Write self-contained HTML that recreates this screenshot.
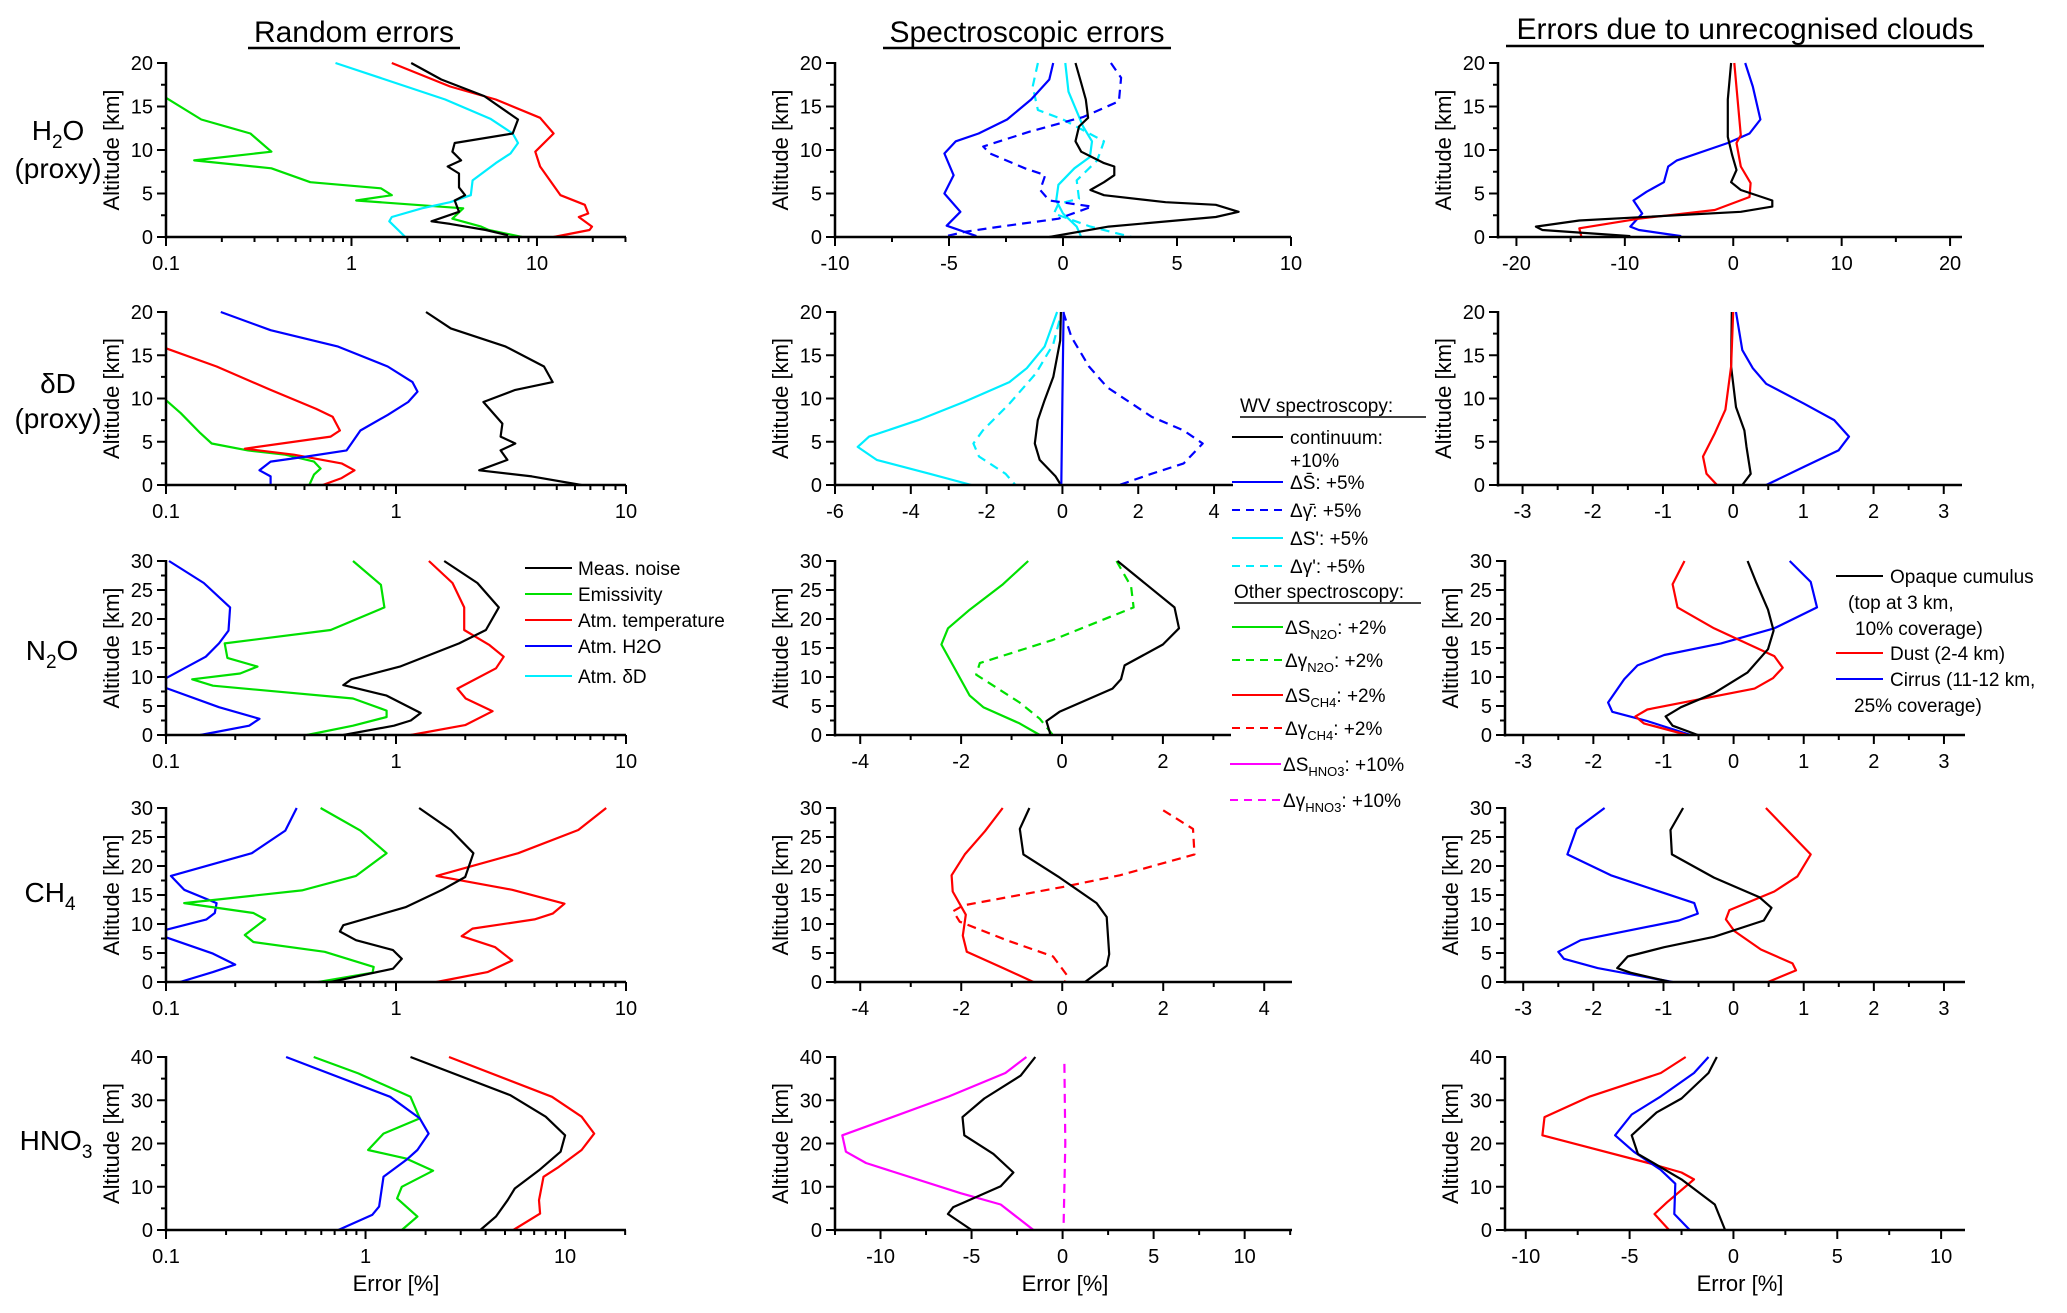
<!DOCTYPE html>
<html><head><meta charset="utf-8"><style>
html,body{margin:0;padding:0;background:#fff;}
svg{display:block;font-family:"Liberation Sans",Arial,sans-serif;}
</style></head><body>
<svg id="fig" width="2067" height="1313" viewBox="0 0 2067 1313">
<rect x="0" y="0" width="2067" height="1313" fill="#fff"/>
<g font-size="30" text-anchor="middle">
<text x="354" y="42">Random errors</text>
<line x1="248" y1="48" x2="460" y2="48" stroke="#000" stroke-width="2.5"/>
<text x="1027" y="42">Spectroscopic errors</text>
<line x1="883" y1="48" x2="1171" y2="48" stroke="#000" stroke-width="2.5"/>
<text x="1745" y="39">Errors due to unrecognised clouds</text>
<line x1="1506" y1="46" x2="1984" y2="46" stroke="#000" stroke-width="2.5"/>
</g>
<g font-size="28" text-anchor="middle">
<text x="58" y="140">H<tspan font-size="19" dy="8">2</tspan><tspan dy="-8">O</tspan></text>
<text x="58" y="178">(proxy)</text>
<text x="58" y="393">δD</text>
<text x="58" y="428">(proxy)</text>
<text x="52" y="660">N<tspan font-size="19" dy="8">2</tspan><tspan dy="-8">O</tspan></text>
<text x="50" y="902">CH<tspan font-size="19" dy="8">4</tspan></text>
<text x="56" y="1150">HNO<tspan font-size="19" dy="8">3</tspan></text>
</g>
<g font-size="22" text-anchor="middle">
<text x="396" y="1291">Error [%]</text>
<text x="1065" y="1291">Error [%]</text>
<text x="1740" y="1291">Error [%]</text>
</g>
<g font-size="19">
<line x1="525" y1="568" x2="572" y2="568" stroke="#000" stroke-width="2"/><text x="578" y="575">Meas. noise</text>
<line x1="525" y1="594" x2="572" y2="594" stroke="#00e000" stroke-width="2"/><text x="578" y="601">Emissivity</text>
<line x1="525" y1="620" x2="572" y2="620" stroke="#ff0000" stroke-width="2"/><text x="578" y="627">Atm. temperature</text>
<line x1="525" y1="646" x2="572" y2="646" stroke="#0000ff" stroke-width="2"/><text x="578" y="653">Atm. H2O</text>
<line x1="525" y1="676" x2="572" y2="676" stroke="#00eeff" stroke-width="2"/><text x="578" y="683">Atm. δD</text>
</g>
<g font-size="19">
<text x="1240" y="412">WV spectroscopy:</text>
<line x1="1240" y1="417" x2="1426" y2="417" stroke="#000" stroke-width="1.5"/>
<line x1="1232" y1="437" x2="1283" y2="437" stroke="#000" stroke-width="2"/><text x="1290" y="444">continuum:</text>
<text x="1290" y="467">+10%</text>
<line x1="1232" y1="482" x2="1283" y2="482" stroke="#0000ff" stroke-width="2"/><text x="1290" y="489">ΔS̄: +5%</text>
<line x1="1232" y1="510" x2="1283" y2="510" stroke="#0000ff" stroke-width="2" stroke-dasharray="8,6"/><text x="1290" y="517">Δγ̄: +5%</text>
<line x1="1232" y1="538" x2="1283" y2="538" stroke="#00eeff" stroke-width="2"/><text x="1290" y="545">ΔS': +5%</text>
<line x1="1232" y1="566" x2="1283" y2="566" stroke="#00eeff" stroke-width="2" stroke-dasharray="8,6"/><text x="1290" y="573">Δγ': +5%</text>
<text x="1234" y="598">Other spectroscopy:</text>
<line x1="1234" y1="603" x2="1421" y2="603" stroke="#000" stroke-width="1.5"/>
<line x1="1232" y1="627" x2="1283" y2="627" stroke="#00e000" stroke-width="2"/><text x="1285" y="634">ΔS<tspan font-size="13" dy="5">N2O</tspan><tspan dy="-5">: +2%</tspan></text>
<line x1="1232" y1="660" x2="1283" y2="660" stroke="#00e000" stroke-width="2" stroke-dasharray="8,6"/><text x="1285" y="667">Δγ<tspan font-size="13" dy="5">N2O</tspan><tspan dy="-5">: +2%</tspan></text>
<line x1="1232" y1="695" x2="1283" y2="695" stroke="#ff0000" stroke-width="2"/><text x="1285" y="702">ΔS<tspan font-size="13" dy="5">CH4</tspan><tspan dy="-5">: +2%</tspan></text>
<line x1="1232" y1="728" x2="1283" y2="728" stroke="#ff0000" stroke-width="2" stroke-dasharray="8,6"/><text x="1285" y="735">Δγ<tspan font-size="13" dy="5">CH4</tspan><tspan dy="-5">: +2%</tspan></text>
<line x1="1230" y1="764" x2="1281" y2="764" stroke="#ff00ff" stroke-width="2"/><text x="1283" y="771">ΔS<tspan font-size="13" dy="5">HNO3</tspan><tspan dy="-5">: +10%</tspan></text>
<line x1="1230" y1="800" x2="1281" y2="800" stroke="#ff00ff" stroke-width="2" stroke-dasharray="8,6"/><text x="1283" y="807">Δγ<tspan font-size="13" dy="5">HNO3</tspan><tspan dy="-5">: +10%</tspan></text>
</g>
<g font-size="19">
<line x1="1836" y1="576" x2="1883" y2="576" stroke="#000" stroke-width="2"/><text x="1890" y="583">Opaque cumulus</text>
<text x="1848" y="609">(top at 3 km,</text>
<text x="1855" y="635">10% coverage)</text>
<line x1="1836" y1="653" x2="1883" y2="653" stroke="#ff0000" stroke-width="2"/><text x="1890" y="660">Dust (2-4 km)</text>
<line x1="1836" y1="679" x2="1883" y2="679" stroke="#0000ff" stroke-width="2"/><text x="1890" y="686">Cirrus (11-12 km,</text>
<text x="1854" y="712">25% coverage)</text>
</g>
<g id="panels"></g>
</svg>
<script>
// ---- Data: each series is [altitude km, error %] pairs ----
// Random errors
const rH2O_noise=[[20,2.1],[18.1,3.05],[16.2,5.2],[13.5,7.9],[11.9,7.4],[10.8,3.6],[9.8,3.5],[8.8,3.9],[8.1,3.3],[7.3,3.8],[5.7,3.8],[4.8,4.1],[4.2,3.6],[2.9,3.8],[1.8,2.7],[1.5,3.4],[0.8,5.3],[0.2,7.0]];
const rH2O_emis=[[16,0.1],[13.5,0.155],[11.9,0.285],[9.8,0.37],[8.8,0.142],[7.9,0.37],[6.3,0.6],[5.6,1.44],[4.8,1.65],[4.2,1.06],[3.3,4.0],[2.1,3.5],[1.2,5.0],[0.8,5.5],[0,8.3]];
const rH2O_temp=[[20,1.65],[17.3,3.4],[15.8,6.0],[13.7,10.4],[11.9,12.3],[9.8,9.8],[8.1,10.4],[4.8,13.4],[3.7,18.1],[2.7,18.9],[2.3,16.8],[1.2,19.8],[0.8,19.2],[0,12.3]];
const rH2O_dD=[[20,0.82],[15.8,3.2],[13.6,5.6],[11.9,7.4],[10.8,7.9],[9.6,7.2],[8.5,6.0],[6.5,4.5],[4.8,4.4],[4.0,3.4],[3.3,2.4],[2.3,1.65],[1.8,1.6],[0,1.95]];
const rdD_noise=[[20,1.35],[18.1,1.73],[16,3.0],[13.7,4.4],[11.9,4.8],[11,3.3],[9.6,2.4],[7.1,2.9],[5.6,2.85],[4.8,3.3],[4.0,2.85],[2.9,3.05],[1.7,2.3],[1.0,3.9],[0,6.4]];
const rdD_h2o=[[20,0.173],[17.9,0.285],[16,0.56],[13.7,0.92],[11.9,1.18],[10.8,1.24],[9.6,1.13],[8.1,0.92],[6.3,0.7],[4.8,0.64],[4.0,0.61],[3.3,0.41],[2.7,0.285],[1.7,0.255],[1.0,0.285],[0,0.285]];
const rdD_temp=[[15.8,0.1],[13.7,0.166],[11,0.285],[8.8,0.45],[7.9,0.53],[6.3,0.57],[5.6,0.52],[4.2,0.22],[3.5,0.36],[2.5,0.58],[1.7,0.66],[0.8,0.58],[0,0.48]];
const rdD_emis=[[9.8,0.1],[8.3,0.116],[6.0,0.141],[4.8,0.158],[4.0,0.227],[3.5,0.33],[2.7,0.44],[1.9,0.47],[1.2,0.44],[0,0.42]];
const rN2O_h2o=[[30,0.103],[26.2,0.146],[22,0.19],[18,0.187],[15.8,0.17],[13.5,0.149],[9.8,0.1],[8.1,0.1],[4.8,0.17],[2.8,0.255],[1.6,0.23],[0,0.141]];
const rN2O_emis=[[30,0.65],[25.9,0.86],[22,0.89],[18.1,0.52],[15.8,0.18],[13.3,0.185],[11.8,0.25],[10.6,0.21],[9.6,0.13],[8.5,0.16],[6.3,0.65],[4.2,0.91],[3.1,0.91],[1.6,0.65],[0,0.41]];
const rN2O_noise=[[30,1.62],[26.2,2.26],[22,2.8],[18.1,2.46],[15.8,1.88],[11.8,1.04],[9.6,0.64],[8.6,0.59],[6.8,0.91],[3.8,1.28],[2.5,1.16],[1.6,0.98],[0,0.59]];
const rN2O_temp=[[30,1.39],[26.2,1.76],[22,1.98],[18.1,1.98],[15.5,2.55],[13.5,2.94],[11.5,2.72],[8.0,1.85],[6.3,2.01],[4.1,2.63],[1.7,2.0],[0,1.16]];
const rCH4_h2o=[[30,0.37],[26.1,0.33],[22.2,0.236],[18.3,0.105],[15.9,0.12],[13.6,0.166],[11.9,0.163],[10.8,0.15],[9.0,0.1],[7.7,0.1],[4.9,0.16],[3.0,0.2],[1.7,0.16],[0,0.115]];
const rCH4_emis=[[30,0.47],[26.1,0.7],[22.2,0.91],[18.3,0.67],[15.8,0.39],[13.6,0.12],[11.9,0.24],[10.8,0.27],[8.1,0.22],[6.9,0.24],[5.2,0.49],[2.6,0.8],[1.6,0.79],[0,0.46]];
const rCH4_noise=[[30,1.26],[26.2,1.73],[22.2,2.17],[18.1,2.0],[15.9,1.59],[12.9,1.1],[9.8,0.59],[8.7,0.57],[7.2,0.67],[5.5,0.97],[4.0,1.06],[2.3,0.97],[0,0.52]];
const rCH4_temp=[[30,8.2],[26.2,6.2],[22.2,3.4],[18.3,1.5],[15.9,3.2],[13.5,5.4],[11.8,4.8],[10.8,4.0],[9.2,2.15],[7.9,1.93],[6.0,2.7],[3.7,3.2],[1.7,2.5],[0,1.5]];
const rHNO3_h2o=[[40,0.4],[30.8,1.33],[25.8,1.87],[22.3,2.07],[18.5,1.82],[16.2,1.6],[12.3,1.23],[5.4,1.17],[3.5,1.08],[0,0.73]];
const rHNO3_emis=[[40,0.55],[36.2,0.92],[30.8,1.68],[25.8,1.87],[22.3,1.23],[18.5,1.03],[16.5,1.6],[13.7,2.18],[10,1.52],[7.3,1.44],[3.1,1.82],[0,1.52]];
const rHNO3_noise=[[40,1.68],[31.2,5.3],[26.2,8.0],[21.9,10],[18.1,9.5],[13.8,7.4],[9.6,5.6],[6.9,5.15],[3.1,4.5],[0,3.76]];
const rHNO3_temp=[[40,2.62],[30.8,8.6],[26.2,12.1],[22.3,14.0],[18.5,12.1],[14.6,9.3],[12.3,7.8],[6.9,7.4],[3.8,7.5],[0,5.5]];
// Spectroscopic errors
const sH2O_cont=[[20,0.55],[17.7,0.8],[15.8,1.0],[13.7,1.1],[12.7,0.7],[11,0.55],[9.8,0.8],[8.5,1.8],[8.1,2.25],[7.1,2.25],[6.3,1.8],[5.4,1.2],[4.8,1.8],[4.0,4.5],[3.7,6.7],[2.9,7.7],[2.3,6.7],[1.2,2.0],[0,-0.6]];
const sH2O_Sbar=[[20,-0.43],[18.1,-0.6],[15.8,-1.4],[13.5,-2.45],[11.9,-3.7],[11,-4.7],[9.6,-5.2],[7.1,-4.8],[5.0,-5.2],[2.9,-4.5],[1.3,-5.1],[0.1,-3.8]];
const sH2O_Gbar=[[20,2.1],[18.3,2.55],[15.6,2.45],[13.8,0.9],[12.1,-1.47],[10.4,-3.5],[9.6,-3.2],[7.9,-1.67],[7.1,-0.78],[5.4,-1.0],[4.2,-0.6],[3.5,1.27],[2.1,-0.2],[1.2,-2.75],[0.6,-4.3],[0,-5.3]];
const sH2O_Sp=[[20,0.1],[16.7,0.24],[12.7,0.88],[11,1.27],[9.2,1.18],[7.9,0.5],[6.0,-0.2],[4.2,-0.3],[2.7,0],[1.2,0.6],[0,0.8]];
const sH2O_Gp=[[20,-1.1],[17.3,-1.33],[14.6,-1.1],[13.5,0],[11,1.8],[8.8,1.5],[6.5,0.6],[4.4,0.7],[3.8,-0.2],[2.7,-0.4],[1.2,1.2],[0,3.0]];
const sdD_cont=[[20,-0.04],[16.7,-0.06],[12.5,-0.24],[9.8,-0.47],[7.5,-0.65],[4.8,-0.73],[2.9,-0.6],[1.0,-0.18],[0,-0.04]];
const sdD_Sbar=[[20,0.03],[10,0.0],[0,-0.03]];
const sdD_Gbar=[[20,0.02],[17.1,0.24],[13.7,0.7],[11.3,1.18],[7.9,2.35],[6.3,3.2],[4.8,3.7],[2.5,3.2],[1.3,2.35],[0,1.5]];
const sdD_Sp=[[20,-0.14],[16,-0.47],[13.5,-0.94],[11.9,-1.4],[9.6,-2.6],[7.5,-3.8],[5.6,-5.1],[4.4,-5.4],[2.9,-4.9],[1.3,-3.5],[0,-2.4]];
const sdD_Gp=[[19,-0.08],[16.3,-0.24],[12.9,-0.7],[9.4,-1.4],[6.3,-2.1],[4.8,-2.35],[3.3,-2.2],[1.3,-1.5],[0,-1.24]];
const sN2O_S=[[30,-0.67],[26,-1.17],[21.6,-1.83],[18.4,-2.26],[15.6,-2.39],[12,-2.16],[6.8,-1.83],[4.8,-1.56],[2.0,-0.84],[0,-0.44]];
const sN2O_G=[[30,1.08],[25.6,1.37],[22,1.42],[16.4,-0.18],[12.4,-1.63],[10.4,-1.7],[5.6,-0.84],[2.8,-0.44],[0,-0.18]];
const sN2O_cont=[[30,1.1],[22,2.23],[18.4,2.32],[15.6,2.0],[12,1.24],[9.6,1.17],[8,1.0],[4,-0.05],[2.4,-0.31],[0.4,-0.24],[0,-0.24]];
const sCH4_S=[[30,-1.18],[26,-1.53],[22,-1.93],[18.4,-2.19],[15.6,-2.17],[11.6,-1.91],[8,-1.97],[5.2,-1.89],[2.4,-1.17],[0,-0.57]];
const sCH4_G=[[29.6,2.0],[26.4,2.59],[22,2.62],[18.4,1.14],[16.4,0.02],[13.2,-1.96],[12.2,-2.16],[10.4,-2.03],[7.2,-1.1],[4.4,-0.18],[1.2,0.09],[0,0.05]];
const sCH4_cont=[[30,-0.65],[26.4,-0.84],[22,-0.77],[18,-0.05],[13.6,0.68],[11.2,0.88],[4.8,0.93],[2.8,0.88],[0,0.45]];
const sHNO3_S=[[40,-1.99],[36.3,-3.14],[30.9,-6.24],[21.9,-12.1],[18.1,-11.9],[15.5,-10.8],[8.5,-5.6],[5.9,-3.4],[0,-1.6]];
const sHNO3_G=[[38.4,0.1],[20,0.15],[0,0.05]];
const sHNO3_cont=[[40,-1.5],[35.7,-2.3],[30.4,-4.3],[26.1,-5.5],[21.9,-5.4],[17.6,-3.8],[13.3,-2.7],[10.1,-3.4],[5.3,-6.0],[3.7,-6.3],[0,-5.0]];
// Cloud errors
const cH2O_cum=[[20,-0.2],[15.8,-0.5],[11.5,-0.5],[9.4,-0.1],[7.7,0.3],[6.3,-0.2],[5.4,0.7],[4.2,3.6],[3.5,3.6],[2.9,0.7],[1.9,-14.2],[1.2,-18.2],[0.8,-17.6],[0.1,-9.5]];
const cH2O_dust=[[20,0.1],[11.7,0.7],[10.8,0.3],[8.1,0.7],[6.2,1.6],[4.6,1.5],[3.1,-1.7],[2.1,-8.7],[1.0,-14.2],[0,-14.0]];
const cH2O_cir=[[20,1.1],[17.3,1.8],[13.5,2.5],[11.9,1.5],[10.8,-0.5],[8.8,-5.2],[8.1,-6.0],[6.3,-6.4],[5.2,-8.0],[4.2,-9.2],[2.7,-8.4],[1.2,-9.5],[0.8,-8.7],[0.1,-4.8]];
const cdD_cum=[[20,-0.02],[13.7,-0.03],[9.0,0.04],[6.3,0.16],[4.4,0.19],[1.3,0.25],[0,0.13]];
const cdD_dust=[[20,0],[13.7,-0.03],[8.7,-0.11],[6,-0.26],[3.3,-0.43],[1.3,-0.38],[0,-0.23]];
const cdD_cir=[[20,0.04],[15.6,0.13],[13.5,0.28],[11.7,0.47],[9.4,1.01],[7.5,1.44],[5.6,1.65],[4.0,1.5],[2.1,1.01],[0,0.47]];
const cN2O_cum=[[30,0.2],[26.4,0.32],[21.6,0.49],[18,0.57],[14.8,0.49],[10.8,0.2],[7.2,-0.28],[4.8,-0.75],[3.2,-0.97],[1.6,-0.87],[0,-0.51]];
const cN2O_dust=[[30,-0.7],[26,-0.87],[22,-0.8],[18.4,-0.28],[13.6,0.58],[11.6,0.7],[9.8,0.56],[8,0.3],[4.4,-1.23],[3.2,-1.4],[2,-1.28],[0,-0.66]];
const cN2O_cir=[[30,0.8],[26.4,1.1],[22,1.19],[18.4,0.58],[15.8,-0.18],[13.8,-0.99],[12,-1.37],[9.6,-1.56],[5.6,-1.79],[4,-1.73],[2.4,-1.23],[0,-0.61]];
const cCH4_cum=[[30,-0.72],[26.2,-0.9],[22,-0.88],[18,-0.28],[14.6,0.37],[12.8,0.54],[10.6,0.43],[7.8,-0.28],[6.0,-0.99],[4.4,-1.51],[2.4,-1.66],[1.6,-1.47],[0,-0.9]];
const cCH4_dust=[[30,0.46],[22,1.1],[18.2,0.91],[15.6,0.58],[12.4,-0.06],[10.8,-0.11],[8.8,0.01],[5.6,0.39],[3.2,0.84],[2,0.89],[0,0.49]];
const cCH4_cir=[[30,-1.84],[26.4,-2.24],[22,-2.37],[18.4,-1.75],[13.6,-0.56],[11.8,-0.51],[10.6,-0.78],[7.2,-2.18],[5.2,-2.5],[4,-2.42],[2.4,-1.94],[0,-0.87]];
const cHNO3_cum=[[40,-0.8],[36.3,-1.2],[30.4,-2.5],[27.2,-3.7],[21.9,-4.9],[17.6,-4.6],[11.7,-2.5],[5.9,-0.9],[0,-0.4]];
const cHNO3_dust=[[40,-2.3],[36.3,-3.5],[30.9,-6.9],[26.1,-9.1],[21.9,-9.2],[15.5,-4.1],[13.3,-2.5],[11.7,-1.9],[6.4,-3.2],[3.7,-3.8],[0,-3.1]];
const cHNO3_cir=[[40,-1.2],[36.3,-1.9],[30.9,-3.5],[26.7,-4.9],[21.9,-5.7],[18.1,-4.8],[13.9,-3.5],[10.7,-2.8],[3.7,-2.85],[0,-2.1]];
// Axis tick labels
const logTickLabels=["0.1","1","10"];
const altTicks20=[0,5,10,15,20];
const altTicks30=[0,5,10,15,20,25,30];
const altTicks40=[0,10,20,30,40];

// ---- Layout ----
const BK="#000",GR="#00e000",RD="#ff0000",BL="#0000ff",CY="#00eeff",MG="#ff00ff";
const rows=[[63,237],[312,485],[561,735],[808,982],[1057,1230]];
const panels=[
 {id:"random-h2o",r:0,x0:166,x1:626,log:true,xmin:0.1,xmax:30.2,yt:altTicks20,ymin:2.5,ser:[[rH2O_emis,GR,0,"emissivity"],[rH2O_dD,CY,0,"atm-dd"],[rH2O_temp,RD,0,"atm-temperature"],[rH2O_noise,BK,0,"meas-noise"]]},
 {id:"random-dd",r:1,x0:166,x1:626,log:true,xmin:0.1,xmax:10,yt:altTicks20,ymin:2.5,ser:[[rdD_emis,GR,0,"emissivity"],[rdD_temp,RD,0,"atm-temperature"],[rdD_h2o,BL,0,"atm-h2o"],[rdD_noise,BK,0,"meas-noise"]]},
 {id:"random-n2o",r:2,x0:166,x1:626,log:true,xmin:0.1,xmax:10,yt:altTicks30,ymin:2.5,ser:[[rN2O_h2o,BL,0,"atm-h2o"],[rN2O_emis,GR,0,"emissivity"],[rN2O_temp,RD,0,"atm-temperature"],[rN2O_noise,BK,0,"meas-noise"]]},
 {id:"random-ch4",r:3,x0:166,x1:626,log:true,xmin:0.1,xmax:10,yt:altTicks30,ymin:2.5,ser:[[rCH4_h2o,BL,0,"atm-h2o"],[rCH4_emis,GR,0,"emissivity"],[rCH4_temp,RD,0,"atm-temperature"],[rCH4_noise,BK,0,"meas-noise"]]},
 {id:"random-hno3",r:4,x0:166,x1:626,log:true,xmin:0.1,xmax:20.2,yt:altTicks40,ymin:5,ser:[[rHNO3_emis,GR,0,"emissivity"],[rHNO3_h2o,BL,0,"atm-h2o"],[rHNO3_temp,RD,0,"atm-temperature"],[rHNO3_noise,BK,0,"meas-noise"]]},
 {id:"spectro-h2o",r:0,x0:835,x1:1291,xmin:-10,xmax:10,xt:[-10,-5,0,5,10],xm:2.5,yt:altTicks20,ymin:2.5,ser:[[sH2O_Gp,CY,1,"gamma-prime"],[sH2O_Sp,CY,0,"s-prime"],[sH2O_Gbar,BL,1,"gamma-bar"],[sH2O_Sbar,BL,0,"s-bar"],[sH2O_cont,BK,0,"continuum"]]},
 {id:"spectro-dd",r:1,x0:835,x1:1233,xmin:-6,xmax:4.5,xt:[-6,-4,-2,0,2,4],xm:1,yt:altTicks20,ymin:2.5,ser:[[sdD_Sp,CY,0,"s-prime"],[sdD_Gp,CY,1,"gamma-prime"],[sdD_Gbar,BL,1,"gamma-bar"],[sdD_cont,BK,0,"continuum"],[sdD_Sbar,BL,0,"s-bar"]]},
 {id:"spectro-n2o",r:2,x0:835,x1:1231,xmin:-4.5,xmax:3.35,xt:[-4,-2,0,2],xm:1,yt:altTicks30,ymin:2.5,ser:[[sN2O_S,GR,0,"s-n2o"],[sN2O_G,GR,1,"gamma-n2o"],[sN2O_cont,BK,0,"continuum"]]},
 {id:"spectro-ch4",r:3,x0:835,x1:1292,xmin:-4.5,xmax:4.55,xt:[-4,-2,0,2,4],xm:1,yt:altTicks30,ymin:2.5,ser:[[sCH4_S,RD,0,"s-ch4"],[sCH4_G,RD,1,"gamma-ch4"],[sCH4_cont,BK,0,"continuum"]]},
 {id:"spectro-hno3",r:4,x0:835,x1:1292,xmin:-12.5,xmax:12.6,xt:[-10,-5,0,5,10],xm:2.5,yt:altTicks40,ymin:5,ser:[[sHNO3_S,MG,0,"s-hno3"],[sHNO3_G,MG,1,"gamma-hno3"],[sHNO3_cont,BK,0,"continuum"]]},
 {id:"clouds-h2o",r:0,x0:1498,x1:1962,xmin:-21.7,xmax:21.1,xt:[-20,-10,0,10,20],xm:5,yt:altTicks20,ymin:2.5,ser:[[cH2O_cir,BL,0,"cirrus"],[cH2O_dust,RD,0,"dust"],[cH2O_cum,BK,0,"cumulus"]]},
 {id:"clouds-dd",r:1,x0:1498,x1:1962,xmin:-3.35,xmax:3.26,xt:[-3,-2,-1,0,1,2,3],xm:0.5,yt:altTicks20,ymin:2.5,ser:[[cdD_cir,BL,0,"cirrus"],[cdD_cum,BK,0,"cumulus"],[cdD_dust,RD,0,"dust"]]},
 {id:"clouds-n2o",r:2,x0:1505,x1:1965,xmin:-3.26,xmax:3.3,xt:[-3,-2,-1,0,1,2,3],xm:0.5,yt:altTicks30,ymin:2.5,ser:[[cN2O_cir,BL,0,"cirrus"],[cN2O_dust,RD,0,"dust"],[cN2O_cum,BK,0,"cumulus"]]},
 {id:"clouds-ch4",r:3,x0:1505,x1:1965,xmin:-3.26,xmax:3.3,xt:[-3,-2,-1,0,1,2,3],xm:0.5,yt:altTicks30,ymin:2.5,ser:[[cCH4_cir,BL,0,"cirrus"],[cCH4_dust,RD,0,"dust"],[cCH4_cum,BK,0,"cumulus"]]},
 {id:"clouds-hno3",r:4,x0:1505,x1:1965,xmin:-11,xmax:11.15,xt:[-10,-5,0,5,10],xm:2.5,yt:altTicks40,ymin:5,ser:[[cHNO3_dust,RD,0,"dust"],[cHNO3_cir,BL,0,"cirrus"],[cHNO3_cum,BK,0,"cumulus"]]}
];
const NS="http://www.w3.org/2000/svg";
const root=document.getElementById("panels");
function el(tag,parent){const e=document.createElementNS(NS,tag);parent.appendChild(e);return e;}
function line(p,x1,y1,x2,y2,w){const l=el("line",p);l.setAttribute("x1",x1);l.setAttribute("y1",y1);l.setAttribute("x2",x2);l.setAttribute("y2",y2);l.setAttribute("stroke","#000");l.setAttribute("stroke-width",w);return l;}
function txt(p,x,y,s,anchor,size){const t=el("text",p);t.setAttribute("x",x);t.setAttribute("y",y);t.setAttribute("text-anchor",anchor);t.setAttribute("font-size",size);t.textContent=s;return t;}

panels.forEach(P=>{
  const [y0,y1]=rows[P.r];
  const ymax=P.yt[P.yt.length-1];
  const g=el("g",root);
  
  
  const sx=P.log?(v=>P.x0+(Math.log10(v)-Math.log10(P.xmin))/(Math.log10(P.xmax)-Math.log10(P.xmin))*(P.x1-P.x0))
                :(v=>P.x0+(v-P.xmin)/(P.xmax-P.xmin)*(P.x1-P.x0));
  const sy=a=>y1-(a/ymax)*(y1-y0);
  // series
  P.ser.forEach(s=>{
    const pl=el("polyline",g);
    pl.setAttribute("points",s[0].map(d=>sx(d[1]).toFixed(1)+","+sy(d[0]).toFixed(1)).join(" "));
    pl.setAttribute("fill","none");pl.setAttribute("stroke",s[1]);pl.setAttribute("stroke-width","2.2");
    pl.setAttribute("stroke-linejoin","round");
    if(s[2]) pl.setAttribute("stroke-dasharray","9,6");
    
    
  });
  // axes
  const ax=el("g",g);
  
  
  line(ax,P.x0,y0-1,P.x0,y1+1.5,2.5);
  line(ax,P.x0-1,y1,P.x1,y1,2.5);
  // y ticks
  for(let a=0;a<=ymax+1e-6;a+=P.ymin){
    const major=P.yt.some(t=>Math.abs(t-a)<1e-6);
    line(ax,P.x0-(major?9:5),sy(a),P.x0,sy(a),2);
  }
  const yl=el("g",g);
  
  
  P.yt.forEach(t=>txt(yl,P.x0-13,sy(t)+7,String(t),"end",20));
  // x ticks
  const xl=el("g",g);
  
  
  if(P.log){
    for(let d=-1;d<=1;d++){
      for(let m=1;m<=9;m++){
        const v=m*Math.pow(10,d);
        if(v<P.xmin-1e-9||v>P.xmax) continue;
        line(ax,sx(v),y1,sx(v),y1+(m===1?9:5),2);
      }
    }
    logTickLabels.forEach(s=>{const v=parseFloat(s);if(v<=P.xmax) txt(xl,sx(v),y1+33,s,"middle",20);});
  } else {
    const start=Math.ceil(P.xmin/P.xm)*P.xm;
    for(let v=start;v<=P.xmax+1e-6;v+=P.xm){
      const major=P.xt.some(t=>Math.abs(t-v)<1e-6);
      line(ax,sx(v),y1,sx(v),y1+(major?9:5),2);
    }
    P.xt.forEach(t=>txt(xl,sx(t),y1+33,String(t).replace("-","-"),"middle",20));
  }
  // y title
  const yt=txt(g,0,0,"Altitude [km]","middle",22);
  yt.setAttribute("transform","translate("+(P.x0-47)+","+((y0+y1)/2)+") rotate(-90)");
  
  
});
</script>
</body></html>
